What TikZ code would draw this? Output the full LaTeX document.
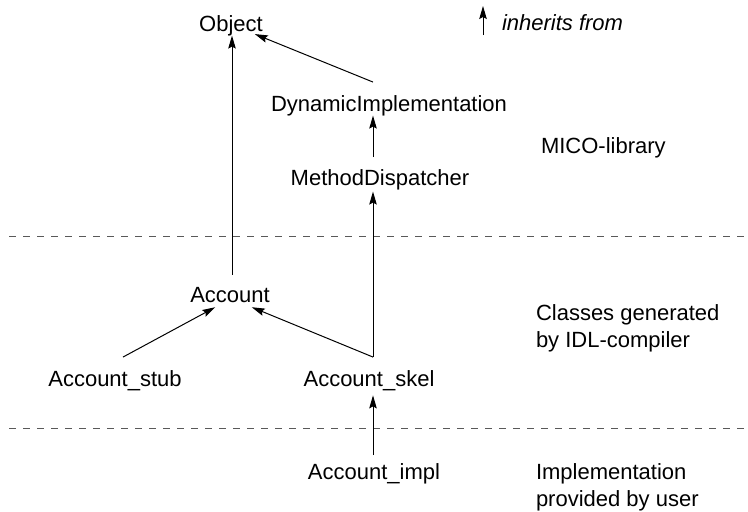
\documentclass[tikz,border=0pt]{standalone}
\usepackage{fontspec}
\setmainfont{Liberation Sans}
\usetikzlibrary{arrows.meta}
\tikzset{
  cls/.style={inner sep=0pt, outer sep=0pt, anchor=base, font=\fontsize{22}{27}\selectfont},
  note/.style={inner sep=0pt, outer sep=0pt, anchor=base west, align=left, font=\fontsize{22}{27}\selectfont},
  inh/.style={line width=1pt, -{Stealth[length=13pt,width=7.5pt,inset=2pt]}},
  layer/.style={line width=1pt, black!65, dash pattern=on 7pt off 7pt}
}
\begin{document}
\begin{tikzpicture}[x=1pt,y=-1pt]
\useasboundingbox (0,0) rectangle (748,512);
% classes
\node[cls] (obj)  at (231,31)  {Object};
\node[cls] (di)   at (389,111) {DynamicImplementation};
\node[cls] (md)   at (380,185) {MethodDispatcher};
\node[cls] (acc)  at (230,302) {Account};
\node[cls] (stub) at (115,386) {Account\_stub};
\node[cls] (skel) at (369,386) {Account\_skel};
\node[cls] (impl) at (374,479) {Account\_impl};
% layer notes (base anchor = last line)
\node[note] (mico) at (541,153) {MICO-library};
\node[note] (gen)  at (536,347) {Classes generated\\by IDL-compiler};
\node[note] (usr)  at (536,506) {Implementation\\provided by user};
% legend
\node[note, font=\fontsize{22}{27}\selectfont\itshape] (lgt) at (502,30) {inherits from};
\coordinate (lg0) at (483,35);
\coordinate (lg1) at (483,6);
\draw[inh] (lg0) -- (lg1);
% layer separators
\coordinate (s1a) at (9,236.5);
\coordinate (s1b) at (748,236.5);
\coordinate (s2a) at (9,428);
\coordinate (s2b) at (748,428);
\draw[layer] (s1a) -- (s1b);
\draw[layer] (s2a) -- (s2b);
% inheritance connectors
\draw[inh] ([xshift=2pt,yshift=12pt]acc.north) -- ([xshift=2pt]acc.north |- obj.south);
\draw[inh] ([xshift=-16pt,yshift=13pt]di.north) -- ([xshift=-8pt,yshift=1.5pt]obj.south east);
\path ([xshift=-7pt,yshift=12pt]md.north) coordinate (m1);
\draw[inh] (m1) -- (m1 |- di.south);
\path ([xshift=4pt,yshift=13pt]skel.north) coordinate (k1);
\draw[inh] (k1) -- ([yshift=-2pt]k1 |- md.south);
\draw[inh] (k1) -- ([xshift=-18pt,yshift=-5pt]acc.south east);
\draw[inh] ([xshift=8pt,yshift=13pt]stub.north) -- ([xshift=25pt,yshift=-5pt]acc.south west);
\path ([xshift=-1pt,yshift=8pt]impl.north) coordinate (i1);
\draw[inh] (i1) -- ([yshift=-5pt]i1 |- skel.south);
\end{tikzpicture}
\end{document}
